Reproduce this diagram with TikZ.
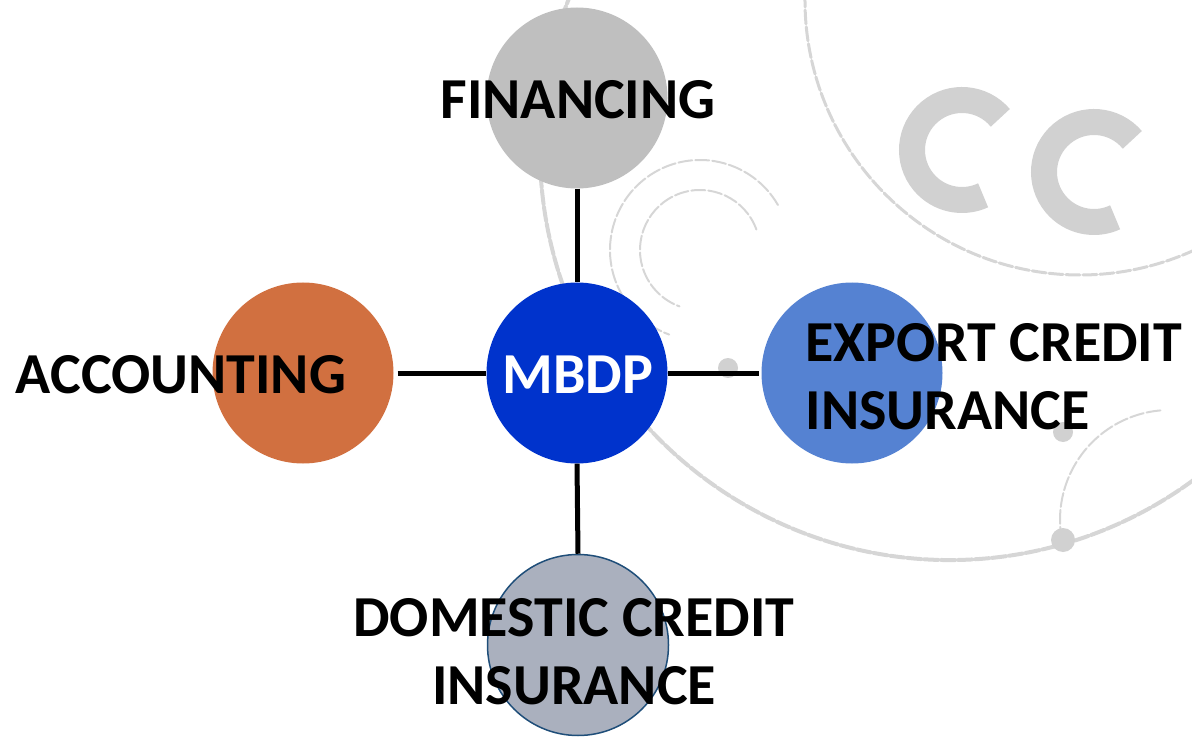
\documentclass[tikz,border=0pt]{standalone}
\usepackage{fontspec}
\setmainfont{Carlito}
\begin{document}
\begin{tikzpicture}[x=1pt,y=-1pt,
  hub/.style={circle,minimum size=181pt,inner sep=0pt},
  lbl/.style={font=\fontsize{58}{68}\selectfont\bfseries,text=black},
  link/.style={line width=5pt,black},
  orn/.style={line width=3pt,color=black!16,line cap=round,dash pattern=on 14pt off 3pt}]
\useasboundingbox (0,0) rectangle (1192,738);
\begin{scope}
\clip (0,0) rectangle (1192,738);
% faint background ornament
\draw[orn] (1080,0) ++(-175:275) arc[start angle=-175,end angle=-310,radius=275];
\draw[orn,line width=4pt] (950,150) ++(-150:410) arc[start angle=-150,end angle=-330,radius=410];
\draw[orn,line width=26pt,color=black!18,line cap=butt,solid] (962,150) ++(-40:50) arc[start angle=-40,end angle=-295,radius=50];
\draw[orn,line width=26pt,color=black!18,line cap=butt,solid] (1094,172) ++(-40:50) arc[start angle=-40,end angle=-295,radius=50];
\draw[orn,line width=2pt] (700,250) ++(-20:60) arc[start angle=-20,end angle=-250,radius=60];
\draw[orn,line width=2pt] (700,250) ++(-30:90) arc[start angle=-30,end angle=-250,radius=90];
\draw[orn,line width=2pt] (1170,520) ++(-95:110) arc[start angle=-95,end angle=-190,radius=110];
\fill[black!18] (728,368) circle[radius=10];
\fill[black!18] (1063,432) circle[radius=10];
\fill[black!18] (1063,540) circle[radius=12];
\end{scope}
% circles
\node[hub,fill={rgb,255:red,191;green,191;blue,191}] (fin) at (577,98) {};
\node[hub,fill={rgb,255:red,0;green,51;blue,204}] (mbdp) at (577,373) {};
\node[hub,fill={rgb,255:red,209;green,112;blue,64}] (acc) at (303,373) {};
\node[hub,fill={rgb,255:red,85;green,130;blue,210}] (exp) at (852,373) {};
\node[hub,fill={rgb,255:red,170;green,176;blue,190},draw={rgb,255:red,31;green,78;blue,121},line width=1.5pt] (dom) at (578,645) {};
% connectors
\draw[link] (fin.south) -- (mbdp.north);
\draw[link] ([xshift=4pt]acc.east) -- (mbdp.west);
\draw[link] (mbdp.east) -- ([xshift=-2pt]exp.west);
\draw[link] (mbdp.south) -- (dom.north);
% labels
\node[lbl] (tfin) at (578,100) {FINANCING};
\node[lbl] (tacc) at (181,375) {ACCOUNTING};
\node[lbl,text=white] (tmb) at (578,375) {MBDP};
\node[lbl,align=left,anchor=west] (texp) at (802,377) {EXPORT CREDIT\\INSURANCE};
\node[lbl,align=center] (tdom) at (574,652) {DOMESTIC CREDIT\\INSURANCE};
\end{tikzpicture}
\end{document}
